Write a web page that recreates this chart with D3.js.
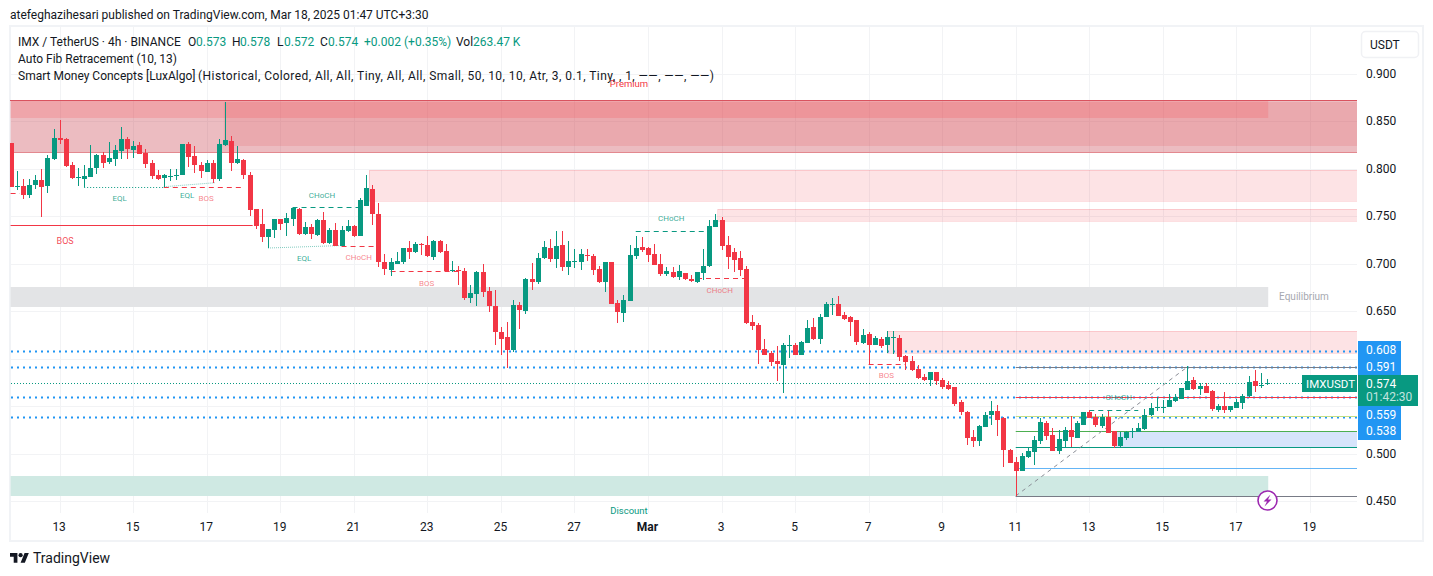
<!DOCTYPE html>
<html><head><meta charset="utf-8">
<script src="https://cdnjs.cloudflare.com/ajax/libs/d3/7.9.0/d3.min.js"></script>
<style>html,body{margin:0;padding:0;background:#fff}svg{display:block}text{font-family:Roboto,sans-serif}</style>
</head><body><svg id="c" width="1433" height="576"></svg>
<script>
// ---- Candles (4h IMX/USDT), index 0 = leftmost visible bar
const opens=[.8271,.7805,.7815,.7720,.7826,.7878,.7815,.8099,.8321,.8310,
.8036,.7903,.7889,.7910,.8005,.8142,.8068,.8099,.8184,.8310,
.8194,.8247,.8163,.8057,.7931,.7899,.7913,.7920,.7931,.8257,
.8131,.8036,.7963,.8057,.7889,.8247,.8289,.8057,.8089,.7931,
.7573,.7415,.7278,.7352,.7468,.7426,.7468,.7573,.7310,.7383,
.7299,.7457,.7215,.7352,.7183,.7341,.7394,.7289,.7607,.7786,
.7523,.7018,.6933,.6997,.7018,.7165,.7123,.7207,.7197,.7070,
.7239,.7133,.6923,.6933,.6923,.6639,.6681,.6912,.6712,.6554,
.6280,.6228,.6091,.6565,.6502,.6839,.6807,.7060,.7165,.7049,
.7197,.6965,.7021,.7018,.7091,.7081,.6944,.6807,.7018,.6586,
.6481,.6607,.7081,.7175,.7165,.7102,.6997,.6891,.6912,.6860,
.6902,.6839,.6807,.6902,.6975,.7386,.7460,.7197,.7120,.7057,
.6941,.6383,.6352,.6099,.6057,.5973,.5931,.6134,.6141,.6036,
.6162,.6331,.6204,.6436,.6566,.6573,.6457,.6436,.6404,.6162,
.6257,.6141,.6204,.6141,.6218,.6215,.6025,.5973,.5888,.5804,
.5773,.5857,.5773,.5720,.5699,.5541,.5436,.5172,.5130,.5278,
.5404,.5446,.5372,.5036,.4910,.4815,.4962,.5015,.5131,.5320,
.5194,.5025,.5131,.5247,.5162,.5299,.5436,.5384,.5289,.5384,
.5236,.5078,.5162,.5226,.5226,.5257,.5405,.5478,.5478,.5489,
.5552,.5573,.5668,.5773,.5678,.5710,.5657,.5457,.5499,.5457,
.5478,.5531,.5605,.5763,.5713,.5731];
const highs=[.8271,.7973,.7885,.7885,.7931,.7994,.8138,.8415,.8510,.8321,
.8068,.8005,.8036,.8247,.8152,.8173,.8278,.8247,.8436,.8331,
.8289,.8278,.8205,.8089,.7984,.7941,.7994,.7994,.8257,.8278,
.8236,.8068,.8089,.8089,.8310,.8700,.8342,.8236,.8099,.7963,
.7573,.7573,.7362,.7468,.7468,.7531,.7594,.7584,.7436,.7415,
.7468,.7541,.7373,.7426,.7394,.7457,.7404,.7685,.7934,.7828,
.7639,.7102,.7060,.7123,.7165,.7239,.7228,.7218,.7291,.7249,
.7249,.7207,.7028,.6975,.6954,.6775,.6923,.6997,.6754,.6723,
.6333,.6386,.6617,.6596,.6849,.7007,.7112,.7239,.7260,.7344,
.7344,.7239,.7154,.7154,.7154,.7102,.6975,.7018,.7018,.6617,
.6670,.7197,.7291,.7281,.7175,.7207,.7102,.6965,.6965,.6986,
.6902,.6881,.6912,.7154,.7460,.7523,.7491,.7291,.7163,.7131,
.6973,.6457,.6373,.6204,.6078,.6131,.6162,.6246,.6162,.6183,
.6404,.6425,.6468,.6594,.6636,.6657,.6489,.6447,.6404,.6310,
.6278,.6236,.6225,.6289,.6289,.6246,.6036,.6025,.5931,.5836,
.5857,.5857,.5794,.5762,.5699,.5562,.5446,.5246,.5299,.5436,
.5552,.5509,.5383,.5046,.4962,.5004,.5057,.5183,.5373,.5341,
.5268,.5247,.5278,.5394,.5341,.5436,.5457,.5415,.5415,.5447,
.5236,.5226,.5236,.5268,.5320,.5468,.5531,.5594,.5562,.5626,
.5626,.5689,.5921,.5805,.5742,.5742,.5668,.5520,.5647,.5499,
.5573,.5626,.5815,.5878,.5847,.5784];
const lows=[.7808,.7773,.7678,.7685,.7784,.7492,.7745,.8089,.8257,.8019,
.7889,.7815,.7805,.7910,.7941,.8005,.8047,.8026,.8099,.8099,
.8110,.8152,.8005,.7889,.7878,.7808,.7868,.7878,.7931,.8015,
.7952,.7899,.7963,.7850,.7868,.8236,.7973,.8047,.7889,.7499,
.7362,.7225,.7159,.7268,.7352,.7289,.7394,.7299,.7299,.7257,
.7289,.7204,.7204,.7183,.7183,.7331,.7278,.7289,.7607,.7407,
.6968,.6881,.6870,.6997,.6997,.7049,.7112,.7091,.7070,.7039,
.7112,.6912,.6912,.6775,.6617,.6586,.6554,.6649,.6491,.6144,
.6038,.5901,.6070,.6312,.6470,.6723,.6786,.7049,.7018,.6954,
.6923,.6881,.6954,.6933,.7028,.6881,.6796,.6702,.6575,.6375,
.6386,.6607,.7049,.7123,.7018,.6986,.6870,.6870,.6849,.6828,
.6828,.6807,.6796,.6828,.6965,.7386,.7144,.6944,.6910,.6868,
.6362,.6299,.5941,.6036,.5920,.5762,.5636,.6004,.6036,.6036,
.6162,.6194,.6152,.6436,.6457,.6447,.6404,.6236,.6141,.6152,
.5941,.6141,.6110,.6057,.6046,.5973,.5878,.5867,.5783,.5762,
.5709,.5720,.5678,.5667,.5499,.5404,.5088,.5067,.5078,.5278,
.5299,.5183,.4857,.4895,.4552,.4815,.4952,.4878,.5099,.5141,
.5025,.4994,.5068,.5068,.5162,.5299,.5373,.5278,.5268,.5215,
.5057,.5068,.5141,.5162,.5226,.5247,.5394,.5447,.5426,.5489,
.5541,.5573,.5668,.5668,.5615,.5636,.5447,.5436,.5426,.5436,
.5478,.5468,.5594,.5647,.5689,.5720];
const closes=[.7808,.7815,.7720,.7826,.7878,.7805,.8110,.8321,.8300,.8026,
.7899,.7910,.7920,.8005,.8142,.8057,.8110,.8194,.8310,.8205,
.8236,.8152,.8047,.7920,.7889,.7931,.7920,.7931,.8257,.8120,
.8036,.7973,.8057,.7889,.8257,.8300,.8057,.8099,.7931,.7562,
.7394,.7278,.7362,.7468,.7415,.7478,.7584,.7310,.7383,.7310,
.7457,.7215,.7352,.7183,.7352,.7394,.7289,.7668,.7797,.7523,
.7018,.6944,.7018,.7028,.7165,.7123,.7207,.7197,.7081,.7239,
.7123,.6923,.6933,.6923,.6639,.6691,.6912,.6702,.6554,.6280,
.6207,.6091,.6565,.6512,.6839,.6807,.7060,.7175,.7049,.7186,
.6965,.7028,.7028,.7102,.7084,.6933,.6807,.7018,.6575,.6491,
.6617,.7091,.7165,.7144,.7091,.6986,.6891,.6923,.6860,.6923,
.6839,.6817,.6912,.6975,.7397,.7460,.7186,.7070,.7036,.6931,
.6373,.6341,.6088,.6036,.5962,.5941,.6141,.6141,.6036,.6173,
.6320,.6204,.6436,.6573,.6573,.6447,.6415,.6383,.6173,.6246,
.6141,.6215,.6131,.6225,.6225,.6015,.5962,.5878,.5794,.5773,
.5857,.5762,.5699,.5678,.5520,.5436,.5162,.5130,.5288,.5404,
.5446,.5351,.5036,.4899,.4815,.4973,.5025,.5141,.5331,.5183,
.5025,.5152,.5247,.5173,.5320,.5436,.5373,.5299,.5384,.5215,
.5078,.5173,.5226,.5236,.5268,.5405,.5478,.5489,.5489,.5562,
.5594,.5689,.5763,.5678,.5710,.5636,.5468,.5499,.5457,.5499,
.5541,.5605,.5752,.5710,.5720,.5742];

// ---- Axes
const priceTicks=[0.45,0.5,0.65,0.7,0.75,0.8,0.85,0.9];
const gridPrices=[0.45,0.5,0.55,0.6,0.65,0.7,0.75,0.8,0.85,0.9];
const dayLabels=["13","15","17","19","21","23","25","27","Mar","3","5","7","9","11","13","15","17","19"];
const dayBars=[8,20,32,44,56,68,80,92,104,116,128,140,152,164,176,188,200,212];

// ---- Indicator data: [startBar, endBar, top, bottom]
const END=220;
const baseZone=[0,END,.8721,.8174];
const obOverlay=[34.8,END,.8700,.8237];
const premiumZone=[0,205.2,.8721,.8532];
const pinkZones=[[58.5,END,.7984,.7661],[115.4,END,.7574,.7451],[143,END,.6289,.6061]];
const equilibriumZone=[0,205.2,.6756,.6545];
const discountZone=[0,205.2,.4763,.4553];
const goldenZone=[180.2,END,.5234,.5065];
// blue dotted levels
const levelPrices=[.608,.591,.559,.538];
const levelLabels=["0.608","0.591","0.559","0.538"];
// fib levels from bar 164
const fibPrices=[.5911,.5592,.5392,.5234,.5065,.4844,.4553];
const fibClasses=["gray","red","lime","green","teal","sky","gray"];
const fibDiagonal=[[164,.4553],[192,.5911]];
// structure lines [bar1, price1, bar2, price2]
const solidRed=[[0,.7402,39.5,.7402]];
const dashRed=[[0,.7737,1.5,.7737],[25,.7808,38.2,.7808],[54,.7189,60,.7189],[62,.6918,73,.6918],[112,.6844,120,.6844],[140,.5946,146,.5946]];
const dashGreen=[[46,.7592,57,.7592],[102,.7339,114,.7339],[176,.5463,184,.5463]];
const dotGreen=[[12,.7808,25,.7808]];
const dotPale=[[25,.7808,33.3,.785],[42,.7163,54,.7189]];
// structure labels
const smcText=["BOS","EQL","EQL","BOS","CHoCH","EQL","CHoCH","BOS","CHoCH","CHoCH","BOS","CHoCH"];
const smcBars=[8.9,17.8,28.8,31.9,50.8,47.9,56.8,67.9,107.8,115.7,142.9,180.8];
const smcPrices=[.7242,.7689,.7725,.7689,.7726,.7063,.7068,.6800,.7479,.6716,.5826,.5600];
const smcKinds=["bigred","g","g","r","g","g","r","r","g","r","r","g"];
const lastPrice=.574;
// header legend
const legendValues=["0.573","0.578","0.572","0.574"];

// ---- Scales
const x=d3.scaleLinear().domain([0,205]).range([10.6,1267]);
const y=d3.scaleLinear().domain([0.45,0.9]).range([501,73.5]);
const INK="#131722",GREEN="#089981",RED="#f23645",BLUE="#2196f3",GRID="#f2f3f5",PANE_R=1357;
const svg=d3.select("#c");
const defs=svg.append("defs");
defs.append("clipPath").attr("id","pane").append("rect").attr("x",10).attr("y",27).attr("width",PANE_R-10).attr("height",487);

// frame
svg.append("rect").attr("x",10).attr("y",26).attr("width",1413).attr("height",515).attr("fill","none").attr("stroke","#f1f3f6").attr("stroke-width",2);
const T=(s,a,b,o={})=>svg.append("text").attr("x",a).attr("y",b).attr("font-size",o.size||12).attr("fill",o.fill||INK).attr("text-anchor",o.anchor||"start").attr("font-weight",o.weight||400).text(s);

T("atefeghazihesari published on TradingView.com, Mar 18, 2025 01:47 UTC+3:30",10,19,{size:12});

// grid via axes
const yGrid=d3.axisRight(y).tickValues(gridPrices).tickSize(PANE_R-11).tickFormat("");
const gy=svg.append("g").attr("transform","translate(11,0)").call(yGrid);
gy.select(".domain").remove();gy.selectAll("line").attr("stroke",GRID).attr("shape-rendering","crispEdges");
const xGrid=d3.axisBottom(x).tickValues(dayBars).tickSize(486).tickFormat("");
const gx=svg.append("g").attr("transform","translate(0,27)").call(xGrid);
gx.select(".domain").remove();gx.selectAll("line").attr("stroke",GRID).attr("shape-rendering","crispEdges");

const pane=svg.append("g").attr("clip-path","url(#pane)");
const zone=(z,fill,stroke)=>{const xl=x(z[0]),xr=Math.min(x(z[1]),PANE_R);const t=Math.round(y(z[2])),b=Math.round(y(z[3]));
  const r=pane.append("rect").attr("x",xl).attr("y",t).attr("width",xr-xl).attr("height",b-t).attr("fill",fill);
  if(stroke)r.attr("stroke",stroke).attr("shape-rendering","crispEdges");return r;};
zone(baseZone,"rgba(201,64,76,.35)");
zone(obOverlay,"rgba(230,60,70,.15)");
zone(premiumZone,"rgba(255,60,65,.18)");
// premium borders
[[baseZone[2],"#d9535f"],[baseZone[3],"#e3888f"]].forEach(([p,c])=>pane.append("line").attr("x1",10).attr("x2",PANE_R).attr("y1",Math.round(y(p))+.5).attr("y2",Math.round(y(p))+.5).attr("stroke",c));
pinkZones.forEach(z=>zone(z,"rgba(242,54,69,.14)","rgba(242,54,69,.16)"));
zone(equilibriumZone,"#e3e4e6");
zone(discountZone,"#cfe9e3");
zone(goldenZone,"#d6e4fb");

// blue dotted levels
levelPrices.forEach(p=>pane.append("line").attr("x1",11).attr("x2",PANE_R).attr("y1",Math.round(y(p))+.5).attr("y2",Math.round(y(p))+.5)
  .attr("stroke",BLUE).attr("stroke-width",2).attr("stroke-dasharray","2 4"));

// fib
const fibColor={gray:"#787b86",red:RED,lime:"#c3de85",green:"#4caf50",teal:GREEN,sky:"#64b5f6"};
fibPrices.forEach((p,i)=>pane.append("line").attr("x1",x(164)).attr("x2",PANE_R).attr("y1",Math.round(y(p))+.5).attr("y2",Math.round(y(p))+.5).attr("stroke",fibColor[fibClasses[i]]));
pane.append("line").attr("x1",x(fibDiagonal[0][0])).attr("y1",y(fibDiagonal[0][1])).attr("x2",x(fibDiagonal[1][0])).attr("y2",y(fibDiagonal[1][1]))
  .attr("stroke","#8a8d96").attr("stroke-dasharray","4 4");

// last price dotted
pane.append("line").attr("x1",11).attr("x2",1303).attr("y1",Math.round(y(lastPrice))+.5).attr("y2",Math.round(y(lastPrice))+.5)
  .attr("stroke",GREEN).attr("stroke-dasharray","1 2");

// structure lines
const seg=(arr,c,d,w,op)=>arr.forEach(s=>{const yy=v=>s[1]===s[3]?Math.round(y(v))+.5:y(v);
  pane.append("line").attr("x1",x(s[0])).attr("y1",yy(s[1])).attr("x2",x(s[2])).attr("y2",yy(s[3])).attr("stroke",c).attr("stroke-width",w||1).attr("stroke-opacity",op||1).attr("stroke-dasharray",d||null);});
seg(solidRed,RED);
seg(dashRed,RED,"5 4");
seg(dashGreen,GREEN,"5 4");
seg(dotGreen,GREEN,"1 2");
seg(dotPale,GREEN,"1 1",1,.5);

// candles
const idx=d3.range(opens.length);
const col=i=>closes[i]>=opens[i]?GREEN:RED;
const cg=pane.append("g").attr("shape-rendering","crispEdges");
cg.selectAll("rect.w").data(idx).join("rect").attr("class","w")
  .attr("x",i=>Math.round(x(i))).attr("width",1)
  .attr("y",i=>Math.round(y(highs[i]))).attr("height",i=>Math.max(1,Math.round(y(lows[i]))-Math.round(y(highs[i]))))
  .attr("fill",col);
cg.selectAll("rect.b").data(idx).join("rect").attr("class","b")
  .attr("x",i=>Math.round(x(i))-2).attr("width",5)
  .attr("y",i=>Math.round(y(Math.max(opens[i],closes[i]))))
  .attr("height",i=>Math.max(1,Math.round(y(Math.min(opens[i],closes[i])))-Math.round(y(Math.max(opens[i],closes[i])))))
  .attr("fill",col);

// structure labels
const smcStyle={g:{fill:"rgba(8,153,129,.82)",size:8},r:{fill:"rgba(242,54,69,.62)",size:8},bigred:{fill:"rgba(242,54,69,.9)",size:9}};
smcText.forEach((t,i)=>{const st=smcStyle[smcKinds[i]];T(t,x(smcBars[i]),y(smcPrices[i])+3,{size:st.size,fill:st.fill,anchor:"middle"});});
T("Equilibrium",1304,300,{size:10,fill:"#a6a8b0",anchor:"middle"});
T("Premium",629,87,{size:9.5,fill:RED,anchor:"middle"});
T("Discount",629,514,{size:9.5,fill:GREEN,anchor:"middle"});

// price axis
const ay=svg.append("g").attr("transform","translate(1358,0)").call(d3.axisRight(y).tickValues(priceTicks).tickSize(0).tickPadding(8).tickFormat(d3.format(".3f")));
ay.select(".domain").remove();ay.selectAll("text").attr("font-family","Roboto,sans-serif").attr("font-size",12).attr("fill",INK);
// time axis
const ax=svg.append("g").attr("transform","translate(-1,515)").call(d3.axisBottom(x).tickValues(dayBars).tickSize(0).tickPadding(7).tickFormat((d,i)=>dayLabels[i]));
ax.select(".domain").remove();ax.selectAll("text").attr("font-family","Roboto,sans-serif").attr("font-size",12).attr("fill",INK)
  .attr("font-weight",(d,i)=>dayLabels[i]==="Mar"?700:400);

// USDT button
svg.append("rect").attr("x",1361.5).attr("y",31.5).attr("width",57).attr("height",26).attr("rx",4).attr("fill","#fff").attr("stroke","#f0f1f4").attr("stroke-width",1.5);
T("USDT",1370,49,{size:12});

// price tags
const tag=(px,py,w,h,c)=>svg.append("rect").attr("x",px).attr("y",py).attr("width",w).attr("height",h).attr("fill",c);
tag(1358,341,43,34,BLUE);
tag(1358,406,43,34,BLUE);
tag(1358,375,60,31,GREEN);
tag(1302,375,55,17,GREEN);
const tagY=[354,371,419,435];
levelLabels.forEach((t,i)=>T(t,1366,tagY[i],{size:12,fill:"#fff"}));
T("0.574",1366,388,{size:12,fill:"#fff"});
T("01:42:30",1366,401,{size:12,fill:"rgba(255,255,255,.75)"});
T("IMXUSDT",1306,388,{size:11.5,fill:"#fff"});

// flash icon
svg.append("circle").attr("cx",1267.5).attr("cy",500.5).attr("r",9.5).attr("fill","#fff").attr("stroke","#9c27b0").attr("stroke-width",1.6);
svg.append("path").attr("d","M1270.5 494.5 L1263.5 501.5 L1267 501.5 L1264.5 506.5 L1271.5 499.5 L1268 499.5 Z").attr("fill","#9c27b0");

// legend
const L=(s,a,b,fill)=>T(s,a,b,{size:12,fill:fill||INK});
L("IMX / TetherUS · 4h · BINANCE",18,46);
[["O",188],["H",232],["L",277],["C",320]].forEach(([s,a])=>L(s,a,46));
[[196],[240],[284],[328]].forEach(([a],i)=>L(legendValues[i],a,46,GREEN));
L("+0.002",364,46,GREEN);L("(+0.35%)",404,46,GREEN);L("Vol",456,46);L("263.47 K",473,46,GREEN);
L("Auto Fib Retracement (10, 13)",18,63);
L("Smart Money Concepts [LuxAlgo]",18,80);
L("(Historical, Colored, All, All, Tiny, All, All, Small, 50, 10, 10, Atr, 3, 0.1, Tiny, , 1, ——, ——, ——)",198,80).attr("textLength",516).attr("lengthAdjust","spacing");

// logo
const lg=svg.append("g").attr("transform","translate(10,551) scale(.53)").attr("fill",INK);
lg.append("path").attr("d","M14 22H7V11H0V4h14v18zM28 22h-8l7.5-18h8L28 22z");
lg.append("circle").attr("cx",20).attr("cy",8).attr("r",4);
T("TradingView",33,563,{size:14});
</script></body></html>
